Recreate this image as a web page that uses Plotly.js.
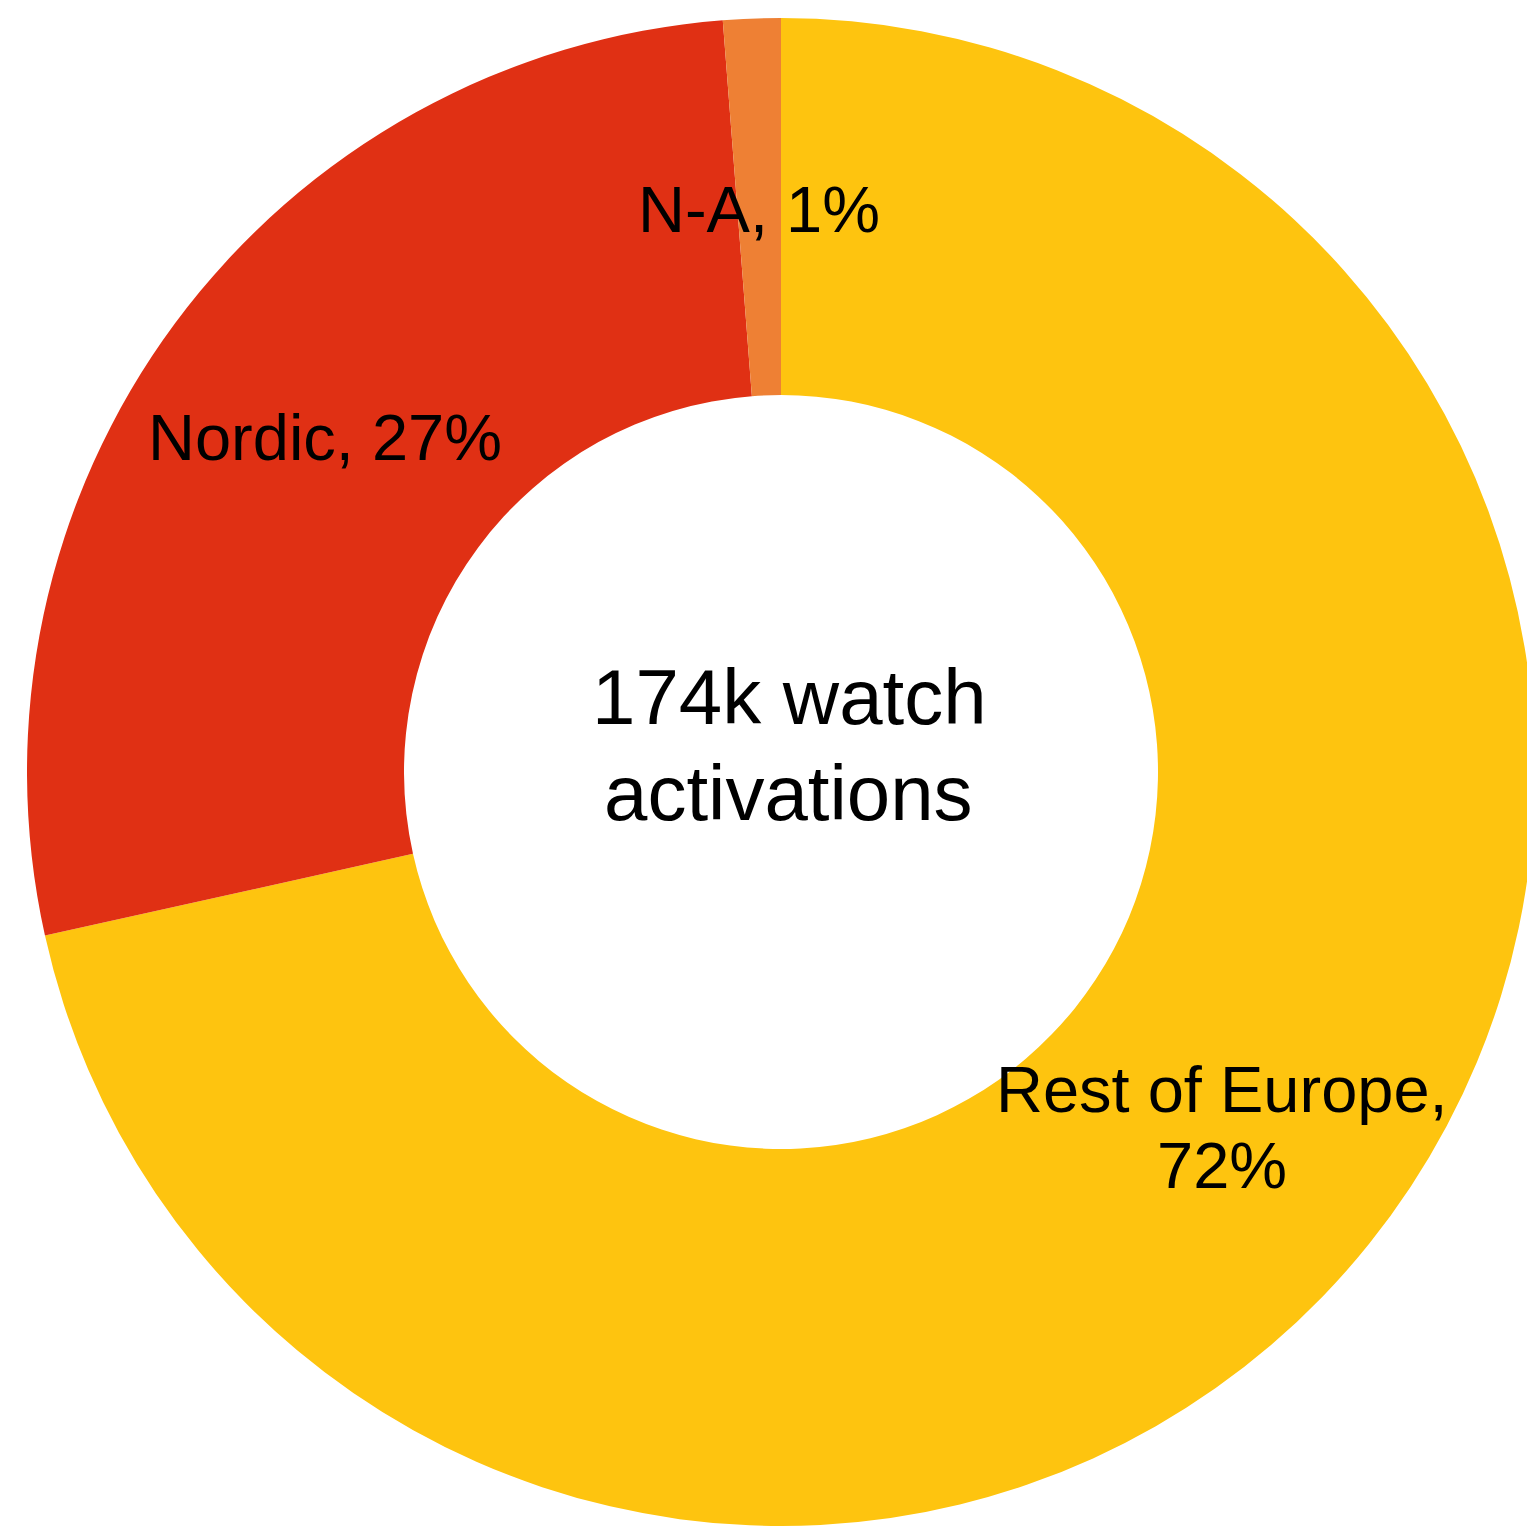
<!DOCTYPE html>
<html>
<head>
<meta charset="utf-8">
<script src="https://cdn.plot.ly/plotly-3.0.1.min.js"></script>
<style>
html, body { margin: 0; padding: 0; overflow: hidden; background: #ffffff; }
#chart { width: 1562px; height: 1526px; }
</style>
</head>
<body>
<div id="chart"></div>
<script>
// Data (thousand watch activations)
const regions = ["Rest of Europe", "Nordic", "N-A"];
const activations = [124.4, 47.4, 2.14];
const sliceColors = ["#FEC40F", "#E03014", "#EE8034"];
const centerLines = ["174k watch", "activations"];

const W = 1562, H = 1526;
const total = activations.reduce((a, b) => a + b, 0);
const pct = activations.map(v => Math.round(v / total * 100));

const font = "Liberation Sans, Arial, sans-serif";
function px(x, y) { return { x: x / W, y: 1 - y / H }; }
function ann(text, p, size) {
  return {
    text: text, xref: "paper", yref: "paper", x: p.x, y: p.y,
    xanchor: "center", yanchor: "middle", showarrow: false,
    font: { family: font, size: size, color: "#000000" }
  };
}

const annotations = [
  ann(regions[2] + ", " + pct[2] + "%", px(759, 209.5), 65),
  ann(regions[1] + ", " + pct[1] + "%", px(325, 437.5), 65),
  ann(regions[0] + ",", px(1222, 1089.5), 65),
  ann(pct[0] + "%", px(1222, 1165.5), 65),
  ann(centerLines[0], px(790, 697), 78),
  ann(centerLines[1], px(788, 793), 78)
];

const trace = {
  type: "pie",
  labels: regions,
  values: activations,
  hole: 0.5,
  sort: false,
  direction: "clockwise",
  rotation: 0,
  textinfo: "none",
  hoverinfo: "label+percent",
  marker: { colors: sliceColors, line: { width: 0 } },
  domain: { x: [27 / W, 1535 / W], y: [0, (H - 18) / H] },
  showlegend: false
};

Plotly.newPlot("chart", [trace], {
  width: W, height: H,
  margin: { l: 0, r: 0, t: 0, b: 0, pad: 0 },
  paper_bgcolor: "#ffffff",
  showlegend: false,
  annotations: annotations
}, { displayModeBar: false, staticPlot: true });
</script>
</body>
</html>
